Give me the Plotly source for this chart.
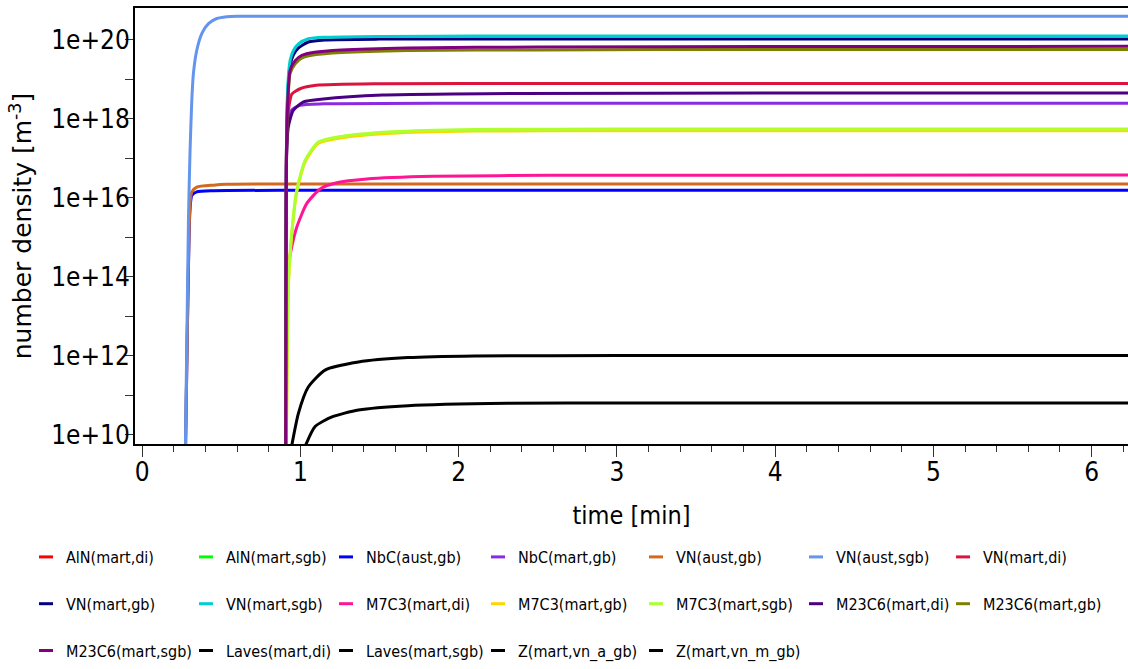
import plotly.graph_objects as go

# ---- precipitate populations (legend order) ----
names = [
    "AlN(mart,di)", "AlN(mart,sgb)", "NbC(aust,gb)", "NbC(mart,gb)", "VN(aust,gb)",
    "VN(aust,sgb)", "VN(mart,di)", "VN(mart,gb)", "VN(mart,sgb)", "M7C3(mart,di)",
    "M7C3(mart,gb)", "M7C3(mart,sgb)", "M23C6(mart,di)", "M23C6(mart,gb)",
    "M23C6(mart,sgb)", "Laves(mart,di)", "Laves(mart,sgb)", "Z(mart,vn_a_gb)",
    "Z(mart,vn_m_gb)",
]
colors = [
    "#FF0000", "#00FF00", "#0000FF", "#8A2BE2", "#D2691E",
    "#6495ED", "#DC143C", "#000080", "#00CED1", "#FF1493",
    "#FFD700", "#ADFF2F", "#4B0082", "#808000",
    "#800080", "#000000", "#000000", "#000000",
    "#000000",
]

# ---- time [min] / number density [m^-3] ----
t_aln_di, n_aln_di = [], []
t_aln_sgb, n_aln_sgb = [], []

t_nbc_aust_gb = [0.272, 0.300, 0.308, 0.314, 0.345, 0.45, 1.0, 6.3]
n_nbc_aust_gb = [1.0e9, 3.2e15, 8.9e15, 1.15e16, 1.41e16, 1.51e16, 1.55e16, 1.55e16]

t_nbc_mart_gb = [0.908, 0.912, 0.92, 0.945, 0.998, 1.145, 2.0, 6.3]
n_nbc_mart_gb = [1e9, 1.0e17, 6.3e17, 1.66e18, 2.2e18, 2.4e18, 2.5e18, 2.5e18]

t_vn_aust_gb = [0.272, 0.300, 0.308, 0.314, 0.345, 0.45, 0.535, 1.0, 2.0, 6.3]
n_vn_aust_gb = [1.0e9, 4.0e15, 1.12e16, 1.41e16, 1.86e16, 2.09e16, 2.19e16, 2.24e16, 2.24e16, 2.24e16]

t_vn_aust_sgb = [0.271, 0.293, 0.303, 0.314, 0.324, 0.345, 0.377, 0.419, 0.472, 0.535, 0.6, 1.0, 2.0, 4.0, 6.3]
n_vn_aust_sgb = [1.0e9, 3.2e15, 1.6e17, 3.0e18, 1.4e19, 5.4e19, 1.45e20, 2.6e20, 3.5e20, 3.9e20,
                 4.0e20, 4.0e20, 4.0e20, 4.0e20, 4.0e20]

t_vn_mart_di = [0.908, 0.911, 0.918, 0.924, 0.935, 0.945, 0.998, 1.1, 1.5, 2.5, 6.3]
n_vn_mart_di = [1e9, 1.0e17, 7.9e17, 1.6e18, 3.0e18, 4.2e18, 5.8e18, 7.1e18, 7.8e18, 7.9e18, 7.9e18]

t_vn_mart_gb = [0.908, 0.912, 0.92, 0.935, 0.956, 0.988, 1.05, 1.156, 1.5, 2.1, 6.3]
n_vn_mart_gb = [1e9, 1.26e17, 4.0e18, 2.24e19, 4.2e19, 6.3e19, 8.9e19, 1.0e20, 1.05e20, 1.05e20, 1.05e20]

t_vn_mart_sgb = [0.908, 0.912, 0.92, 0.935, 0.956, 0.988, 1.05, 1.156, 1.5, 2.1, 6.3]
n_vn_mart_sgb = [1e9, 2.0e17, 6.3e18, 3.0e19, 5.4e19, 7.9e19, 1.07e20, 1.17e20, 1.23e20, 1.26e20, 1.26e20]

t_m7c3_di = [0.91, 0.914, 0.924, 0.945, 0.977, 1.04, 1.127, 1.23, 1.42, 1.84, 2.58, 6.3]
n_m7c3_di = [1e9, 3.1e13, 1.8e14, 5.6e14, 1.8e15, 7.1e15, 1.7e16, 2.4e16, 3.0e16, 3.5e16, 3.7e16, 3.8e16]

t_m7c3_gb = [0.91, 0.925, 0.945, 0.977, 1.03, 1.114, 1.26, 1.577, 2.1, 3.0, 6.3]
n_m7c3_gb = [1e9, 7.0e13, 1.1e15, 1.4e16, 8.1e16, 2.4e17, 3.3e17, 4.3e17, 4.9e17, 5.0e17, 5.0e17]

t_m7c3_sgb = [0.91, 0.925, 0.945, 0.977, 1.03, 1.114, 1.26, 1.577, 2.1, 3.0, 6.3]
n_m7c3_sgb = [1e9, 7.9e13, 1.23e15, 1.55e16, 8.9e16, 2.6e17, 3.6e17, 4.7e17, 5.4e17, 5.5e17, 5.5e17]

t_m23c6_di = [0.908, 0.912, 0.924, 0.956, 1.02, 1.145, 1.52, 2.37, 4.0, 6.3]
n_m23c6_di = [1e9, 7.9e16, 6.3e17, 1.66e18, 2.7e18, 3.2e18, 4.0e18, 4.4e18, 4.5e18, 4.5e18]

t_m23c6_gb = [0.907, 0.912, 0.92, 0.935, 0.967, 1.01, 1.09, 1.26, 1.68, 2.5, 4.0, 6.3]
n_m23c6_gb = [1e9, 7.9e16, 2.0e18, 1.41e19, 2.5e19, 3.5e19, 4.2e19, 4.8e19, 5.4e19, 5.6e19, 5.75e19, 5.75e19]

t_m23c6_sgb = [0.907, 0.912, 0.92, 0.935, 0.967, 1.01, 1.09, 1.26, 1.68, 2.5, 4.0, 6.3]
n_m23c6_sgb = [1e9, 1.0e17, 2.5e18, 1.7e19, 3.0e19, 4.1e19, 4.9e19, 5.6e19, 6.3e19, 6.6e19, 6.8e19, 6.9e19]

t_laves_di = [0.94, 0.988, 1.05, 1.156, 1.367, 1.68, 2.1, 3.0, 6.3]
n_laves_di = [4.0e9, 3.5e10, 1.6e11, 4.3e11, 6.9e11, 8.9e11, 9.8e11, 1.0e12, 1.0e12]

t_laves_sgb = [1.03, 1.093, 1.2, 1.367, 1.68, 2.31, 3.0, 6.3]
n_laves_sgb = [5.0e9, 1.6e10, 2.8e10, 4.2e10, 5.4e10, 6.2e10, 6.3e10, 6.3e10]

t_z_a_gb, n_z_a_gb = [], []
t_z_m_gb, n_z_m_gb = [], []

series_t = [t_aln_di, t_aln_sgb, t_nbc_aust_gb, t_nbc_mart_gb, t_vn_aust_gb,
            t_vn_aust_sgb, t_vn_mart_di, t_vn_mart_gb, t_vn_mart_sgb, t_m7c3_di,
            t_m7c3_gb, t_m7c3_sgb, t_m23c6_di, t_m23c6_gb, t_m23c6_sgb,
            t_laves_di, t_laves_sgb, t_z_a_gb, t_z_m_gb]
series_n = [n_aln_di, n_aln_sgb, n_nbc_aust_gb, n_nbc_mart_gb, n_vn_aust_gb,
            n_vn_aust_sgb, n_vn_mart_di, n_vn_mart_gb, n_vn_mart_sgb, n_m7c3_di,
            n_m7c3_gb, n_m7c3_sgb, n_m23c6_di, n_m23c6_gb, n_m23c6_sgb,
            n_laves_di, n_laves_sgb, n_z_a_gb, n_z_m_gb]

# labelled ticks on even decades, bare ticks on odd decades
y_major = [1e10, 1e12, 1e14, 1e16, 1e18, 1e20]
y_major_text = ["1e+10", "1e+12", "1e+14", "1e+16", "1e+18", "1e+20"]
y_minor = [1e11, 1e13, 1e15, 1e17, 1e19]

W, H = 1128, 669
M_L, M_R, M_T, M_B = 135, 0, 8, 225
NARROW = "DejaVu Sans Condensed, DejaVu Sans, sans-serif"
WIDE = "DejaVu Sans, Verdana, sans-serif"

fig = go.Figure()

# density curves
for name, c, t, n in zip(names, colors, series_t, series_n):
    fig.add_trace(go.Scatter(
        x=t, y=n, mode="lines", name=name, showlegend=False,
        line=dict(color=c, width=3, shape="spline", smoothing=0.6),
    ))

# legend: seven columns, three rows, short dash keys
n_cols = 7
col_text_x = [62, 222, 362, 514, 672, 832, 979]
legend_top = 540
for i, (name, c) in enumerate(zip(names, colors)):
    col = i % n_cols
    lg = "legend" if col == 0 else f"legend{col + 1}"
    fig.add_trace(go.Scatter(
        x=[None], y=[None], mode="markers", name=name, legend=lg,
        legendgroup=name, hoverinfo="skip",
        marker=dict(symbol="line-ew", size=10, color=c, line=dict(color=c, width=3)),
    ))

plot_w = W - M_L - M_R
plot_h = H - M_T - M_B
legends = {}
for col in range(n_cols):
    key = "legend" if col == 0 else f"legend{col + 1}"
    legends[key] = dict(
        xref="paper", yref="paper",
        x=(col_text_x[col] - 36 - M_L) / plot_w,
        y=(H - M_B - legend_top) / plot_h,
        xanchor="left", yanchor="top", orientation="v",
        tracegroupgap=23, itemsizing="trace",
        font=dict(family=NARROW, size=16, color="#000"),
        bgcolor="rgba(0,0,0,0)", borderwidth=0,
    )

fig.update_layout(
    width=W, height=H,
    margin=dict(l=M_L, r=M_R, t=M_T, b=M_B, pad=0, autoexpand=False),
    paper_bgcolor="white", plot_bgcolor="white",
    font=dict(family=NARROW, color="#000"),
    **legends,
)

fig.update_xaxes(
    range=[-0.045, 6.23], tickmode="linear", tick0=0, dtick=1,
    ticks="outside", ticklen=11, tickwidth=1, tickcolor="#333",
    showgrid=False, zeroline=False,
    showline=True, linecolor="#000", linewidth=2, mirror=True,
    tickfont=dict(family=NARROW, size=26, color="#000"), ticklabelstandoff=-7,
    minor=dict(dtick=0.2, ticks="outside", ticklen=6, tickwidth=1, tickcolor="#333", showgrid=False),
    title=dict(text="time [min]", font=dict(family=NARROW, size=25, color="#000"), standoff=20),
)
fig.update_yaxes(
    type="log", range=[9.76, 20.81], tickmode="array", tickvals=y_major, ticktext=y_major_text,
    ticks="outside", ticklen=8, tickwidth=1, tickcolor="#333",
    showgrid=False, zeroline=False, showline=True, linecolor="#000", linewidth=2,
    tickfont=dict(family=NARROW, size=26, color="#000"), ticklabelstandoff=-10,
    minor=dict(tickvals=y_minor, ticks="outside", ticklen=8, tickwidth=1, tickcolor="#333", showgrid=False),
    title=dict(text="number density [m<sup>-3</sup>]", font=dict(family=WIDE, size=25, color="#000"), standoff=12),
)

fig.write_html("out.html")
